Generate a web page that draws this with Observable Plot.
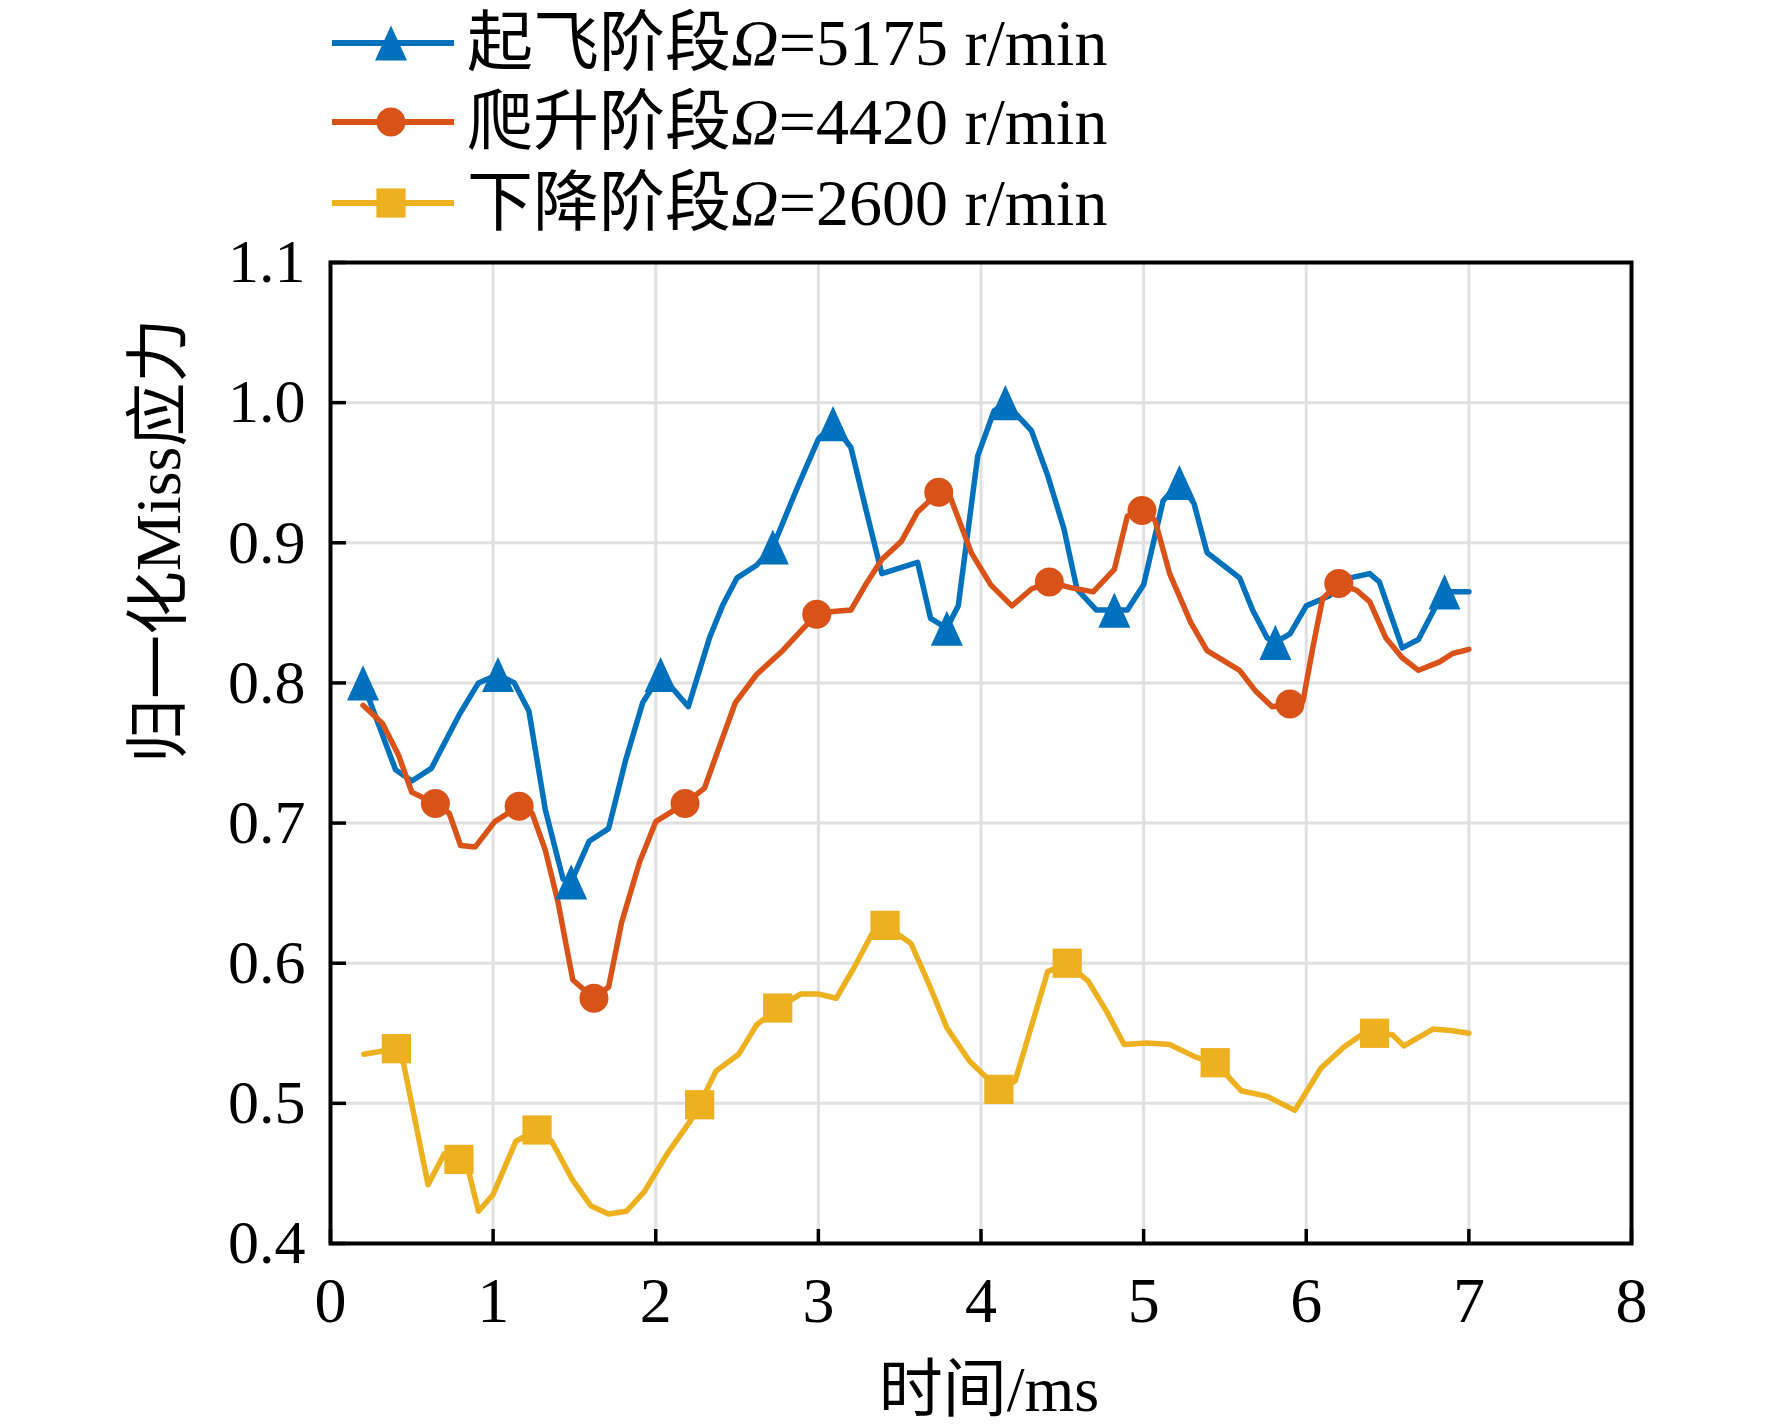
<!DOCTYPE html>
<html>
<head>
<meta charset="utf-8">
<script src="https://cdn.jsdelivr.net/npm/d3@7"></script>
<script src="https://cdn.jsdelivr.net/npm/@observablehq/plot@0.6"></script>
<style>
  body { margin: 0; background: #fff; }
  #wrap { width: 1772px; height: 1424px; position: relative; background: #fff;
          font-family: "Liberation Serif", "Noto Sans CJK SC", serif; }
  #legend { position: relative; width: 1772px; height: 240px; }
  .row { position: absolute; left: 330px; height: 70px; display: flex; align-items: center; }
  .row span { font-size: 66px; margin-left: 10px; line-height: 1; white-space: nowrap; color: #000; }
  #chart svg { display: block; }
</style>
</head>
<body>
<div id="wrap"><div id="legend"></div><div id="chart"></div></div>
<script>
// ---------------- data ----------------
const seriesLabels = ["起飞阶段", "爬升阶段", "下降阶段"];
const seriesOmega = ["5175", "4420", "2600"];
const seriesColors = ["#0072BD", "#D95319", "#EDB120"];

const xTicks = [0, 1, 2, 3, 4, 5, 6, 7, 8];
const yTicks = [0.4, 0.5, 0.6, 0.7, 0.8, 0.9, 1.0, 1.1];

// 起飞阶段 Ω=5175 r/min
const takeoffT = [0.20, 0.40, 0.50, 0.62, 0.79, 0.91, 1.03, 1.13, 1.22, 1.32, 1.43, 1.48, 1.59, 1.71, 1.815, 1.92, 2.03, 2.20, 2.33, 2.41, 2.50, 2.62, 2.72, 2.88, 3.00, 3.09, 3.20, 3.29, 3.39, 3.61, 3.69, 3.79, 3.86, 3.98, 4.08, 4.15, 4.31, 4.41, 4.51, 4.59, 4.71, 4.82, 4.90, 5.00, 5.12, 5.22, 5.31, 5.39, 5.49, 5.59, 5.67, 5.76, 5.81, 5.90, 6.00, 6.14, 6.27, 6.39, 6.45, 6.59, 6.69, 6.78, 6.85, 7.00];
const takeoffV = [0.800, 0.738, 0.730, 0.739, 0.777, 0.800, 0.806, 0.800, 0.780, 0.710, 0.660, 0.658, 0.687, 0.696, 0.745, 0.786, 0.806, 0.783, 0.832, 0.855, 0.875, 0.884, 0.897, 0.942, 0.974, 0.985, 0.968, 0.925, 0.878, 0.886, 0.846, 0.839, 0.855, 0.962, 0.994, 1.000, 0.980, 0.948, 0.910, 0.867, 0.852, 0.852, 0.852, 0.870, 0.930, 0.943, 0.928, 0.893, 0.884, 0.875, 0.852, 0.832, 0.829, 0.835, 0.855, 0.862, 0.875, 0.878, 0.872, 0.825, 0.831, 0.851, 0.865, 0.865];
const takeoffMarkT = [0.20, 1.03, 1.48, 2.03, 2.72, 3.09, 3.79, 4.15, 4.82, 5.22, 5.81, 6.85];

// 爬升阶段 Ω=4420 r/min
const climbT = [0.20, 0.32, 0.42, 0.50, 0.645, 0.73, 0.80, 0.89, 1.01, 1.16, 1.24, 1.32, 1.40, 1.49, 1.62, 1.71, 1.79, 1.90, 2.00, 2.18, 2.30, 2.38, 2.49, 2.62, 2.78, 2.90, 2.99, 3.09, 3.20, 3.29, 3.39, 3.51, 3.61, 3.74, 3.81, 3.94, 4.06, 4.19, 4.31, 4.42, 4.55, 4.69, 4.82, 4.90, 4.99, 5.07, 5.16, 5.29, 5.39, 5.59, 5.69, 5.79, 5.90, 5.98, 6.04, 6.10, 6.20, 6.31, 6.39, 6.49, 6.59, 6.69, 6.82, 6.90, 7.00];
const climbV = [0.784, 0.771, 0.748, 0.722, 0.714, 0.707, 0.684, 0.683, 0.701, 0.712, 0.707, 0.681, 0.643, 0.588, 0.575, 0.583, 0.629, 0.672, 0.701, 0.714, 0.725, 0.751, 0.786, 0.806, 0.823, 0.838, 0.849, 0.851, 0.852, 0.870, 0.888, 0.901, 0.922, 0.936, 0.933, 0.893, 0.870, 0.855, 0.867, 0.872, 0.868, 0.865, 0.881, 0.919, 0.923, 0.916, 0.878, 0.843, 0.823, 0.809, 0.794, 0.783, 0.785, 0.787, 0.825, 0.860, 0.871, 0.866, 0.858, 0.832, 0.818, 0.809, 0.815, 0.821, 0.824];
const climbMarkT = [0.645, 1.16, 1.62, 2.18, 2.99, 3.74, 4.42, 4.99, 5.90, 6.20];

// 下降阶段 Ω=2600 r/min
const descentT = [0.205, 0.405, 0.45, 0.60, 0.70, 0.79, 0.84, 0.91, 1.00, 1.14, 1.27, 1.36, 1.49, 1.60, 1.71, 1.82, 1.93, 2.07, 2.21, 2.27, 2.37, 2.51, 2.62, 2.75, 2.89, 3.00, 3.11, 3.22, 3.33, 3.41, 3.57, 3.68, 3.79, 3.93, 4.11, 4.21, 4.31, 4.41, 4.53, 4.66, 4.77, 4.88, 5.02, 5.16, 5.32, 5.44, 5.60, 5.76, 5.93, 6.09, 6.23, 6.34, 6.42, 6.53, 6.60, 6.78, 6.89, 7.00];
const descentV = [0.535, 0.539, 0.528, 0.442, 0.464, 0.460, 0.456, 0.423, 0.435, 0.473, 0.481, 0.473, 0.445, 0.427, 0.421, 0.423, 0.437, 0.464, 0.487, 0.499, 0.523, 0.535, 0.556, 0.568, 0.578, 0.578, 0.575, 0.597, 0.621, 0.627, 0.614, 0.585, 0.554, 0.530, 0.510, 0.516, 0.555, 0.594, 0.600, 0.587, 0.566, 0.542, 0.543, 0.542, 0.533, 0.529, 0.509, 0.505, 0.495, 0.525, 0.540, 0.549, 0.550, 0.549, 0.541, 0.553, 0.552, 0.550];
const descentMarkT = [0.405, 0.79, 1.27, 2.27, 2.75, 3.41, 4.11, 4.53, 5.44, 6.42];

// ---------------- build ----------------
const toRows = (T, V) => T.map((t, i) => ({t, v: V[i]}));
const series = [
  {rows: toRows(takeoffT, takeoffV), marks: takeoffMarkT},
  {rows: toRows(climbT, climbV), marks: climbMarkT},
  {rows: toRows(descentT, descentV), marks: descentMarkT}
].map(s => ({...s, markRows: s.marks.map(t => s.rows.find(d => d.t === t))}));

const tallTriangle = {
  draw(context, size) {
    const r = Math.sqrt(size / Math.PI);
    context.moveTo(0, -1.1 * r);
    context.lineTo(r, 1.1 * r);
    context.lineTo(-r, 1.1 * r);
    context.closePath();
  }
};
const symbols = [tallTriangle, d3.symbolCircle, d3.symbolSquare];
const radii = [16, 14.5, 16.5];

const W = 1772, H = 1184;
const mL = 330, mR = 141, mT = 22, mB = 181;
const plotW = W - mL - mR, plotH = H - mT - mB;
const FONT = '"Liberation Serif", "Noto Sans CJK SC", serif';

const marks = [
  Plot.gridX(xTicks, {stroke: "#e0e0e0", strokeOpacity: 1, strokeWidth: 3}),
  Plot.gridY(yTicks, {stroke: "#e0e0e0", strokeOpacity: 1, strokeWidth: 3})
];
series.forEach((s, i) => {
  marks.push(Plot.line(s.rows, {x: "t", y: "v", stroke: seriesColors[i], strokeWidth: 5.5, curve: "linear", strokeLinejoin: "round"}));
});
series.forEach((s, i) => {
  marks.push(Plot.dot(s.markRows, {x: "t", y: "v", fill: seriesColors[i], stroke: "none", symbol: symbols[i], r: radii[i]}));
});
marks.push(
  Plot.tickY(yTicks, {y: d => d, stroke: "black", strokeWidth: 3.5, insetRight: plotW - 16}),
  Plot.tickX(xTicks, {x: d => d, stroke: "black", strokeWidth: 3.5, insetTop: plotH - 14}),
  Plot.axisX(xTicks, {tickSize: 0, tickPadding: 33, fontSize: 64, label: null, tickFormat: d => String(d), fill: "black"}),
  Plot.axisY(yTicks, {tickSize: 0, tickPadding: 25, fontSize: 62, label: null, tickFormat: d3.format(".1f"), fill: "black"}),
  Plot.text(["时间/ms"], {text: d => d, frameAnchor: "bottom", dy: 147, dx: 8, lineAnchor: "middle", fontSize: 64, fill: "black"}),
  Plot.text(["归一化Miss应力"], {text: d => d, frameAnchor: "left", rotate: -90, dx: -171, dy: 10, lineAnchor: "middle", fontSize: 64, fill: "black"}),
  Plot.frame({stroke: "black", strokeWidth: 4})
);

const chart = Plot.plot({
  width: W, height: H,
  marginLeft: mL, marginRight: mR, marginTop: mT, marginBottom: mB,
  x: {domain: [0, 8], axis: null},
  y: {domain: [0.4, 1.1], axis: null},
  style: {fontFamily: FONT, fontSize: "62px", background: "white", overflow: "visible", color: "black"},
  marks
});
document.getElementById("chart").appendChild(chart);

// ---------------- legend ----------------
const legend = d3.select("#legend");
const rowCenters = [43, 122, 203];
seriesLabels.forEach((lab, i) => {
  const row = legend.append("div").attr("class", "row").style("top", (rowCenters[i] - 35) + "px");
  const svg = row.append("svg").attr("width", 127).attr("height", 70);
  svg.append("line").attr("x1", 2).attr("x2", 124).attr("y1", 35).attr("y2", 35)
    .attr("stroke", seriesColors[i]).attr("stroke-width", 6);
  svg.append("path").attr("transform", "translate(61,35)")
    .attr("d", d3.symbol(symbols[i], Math.PI * radii[i] * radii[i])())
    .attr("fill", seriesColors[i]);
  const span = row.append("span");
  span.append("tspan").text(lab);
  span.append("i").text("Ω");
  span.append("tspan").text("=" + seriesOmega[i] + " r/min");
});
</script>
</body>
</html>
